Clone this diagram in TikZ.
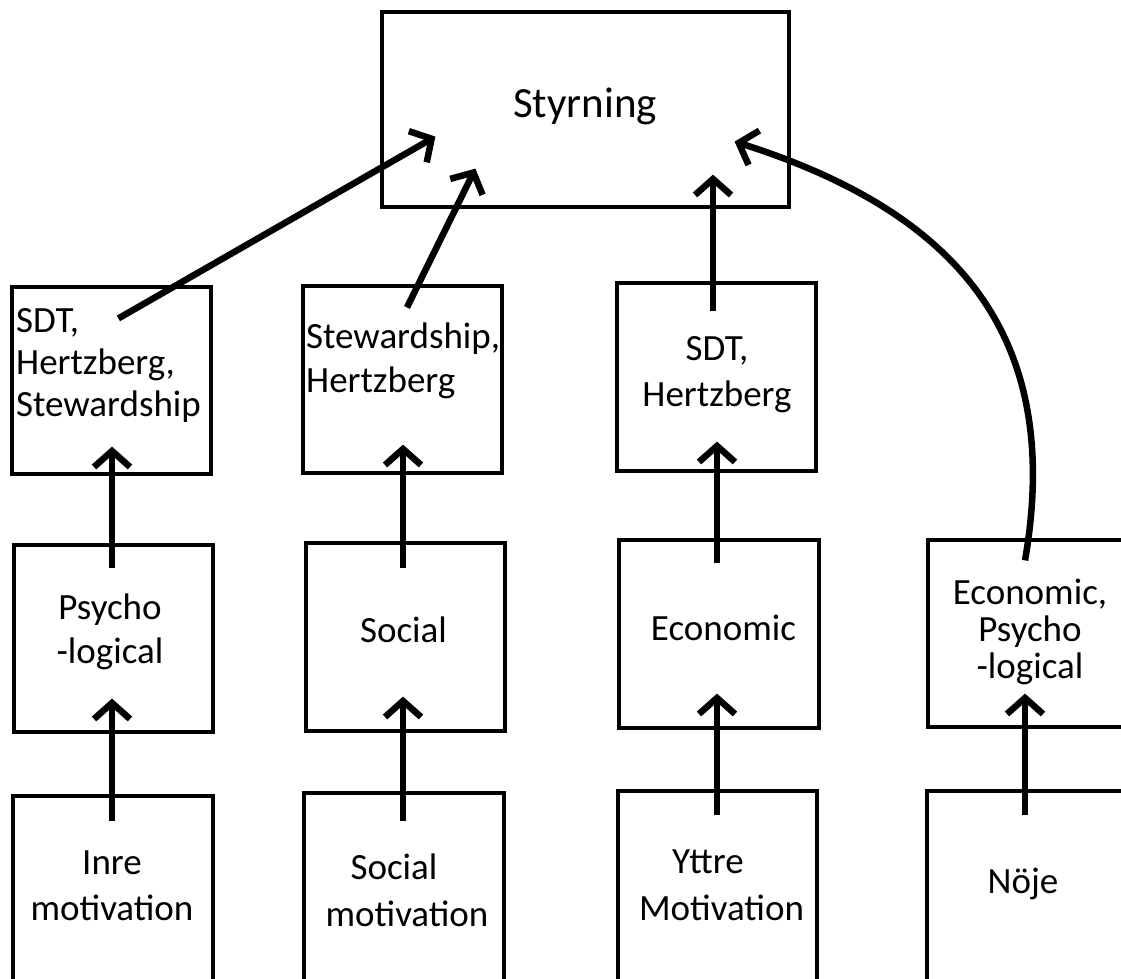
\documentclass[tikz,border=0pt]{standalone}
\usepackage{fontspec}
\setmainfont{Carlito}
\usetikzlibrary{arrows.meta,calc}
\begin{document}
\begin{tikzpicture}[x=1pt,y=-1pt,
  box/.style={draw=black, line width=3.2pt, rectangle, inner sep=0pt},
  arr/.style={line width=6.5pt, -{Straight Barb[length=16pt,width=36pt,line width=6.5pt]}},
  txt/.style={inner sep=0pt, font=\fontsize{37}{44}\selectfont}]
\useasboundingbox (0,0) rectangle (1121,978);
\clip (0,0) rectangle (1121,978);
% boxes
\node[box, minimum width=407pt, minimum height=195pt] (T) at (585.5,109.5) {};
\node[box, minimum width=199pt, minimum height=187pt] (A) at (111.5,380.5) {};
\node[box, minimum width=199pt, minimum height=187pt] (B) at (402.5,379.5) {};
\node[box, minimum width=199pt, minimum height=188pt] (C) at (716.5,377) {};
\node[box, minimum width=199pt, minimum height=187pt] (P) at (113.5,638.5) {};
\node[box, minimum width=199pt, minimum height=188pt] (S) at (405.5,637) {};
\node[box, minimum width=200pt, minimum height=188pt] (E) at (719,634) {};
\node[box, minimum width=202pt, minimum height=187pt] (EP) at (1029,633.5) {};
\node[box, minimum width=200pt, minimum height=208pt] (I) at (113,900) {};
\node[box, minimum width=200pt, minimum height=211pt] (SM) at (404,898.5) {};
\node[box, minimum width=199pt, minimum height=213pt] (Y) at (717.5,897.5) {};
\node[box, minimum width=203pt, minimum height=213pt] (N) at (1028.5,897.5) {};
% texts
\node[inner sep=0pt, font=\fontsize{43}{50}\selectfont, anchor=base] (tT) at (585,117) {Styrning};
\node[txt, font=\fontsize{37}{42}\selectfont, align=left, anchor=west] (tA) at (16,365) {SDT,\\Hertzberg,\\Stewardship};
\node[txt, align=left, anchor=west] (tB) at (306,360.5) {Stewardship,\\Hertzberg};
\node[txt, font=\fontsize{37}{46}\selectfont, align=center] (tC) at (717,375) {SDT,\\Hertzberg};
\node[txt, align=center] (tP) at (110,632) {Psycho\\-logical};
\node[txt, anchor=base] (tS) at (403.5,642) {Social};
\node[txt, anchor=base] (tE) at (723.5,640) {Economic};
\node[txt, font=\fontsize{37}{37}\selectfont, align=center] (tEP) at (1030,632) {Economic,\\Psycho\\-logical};
\node[txt, font=\fontsize{37}{46}\selectfont, align=center] (tI) at (112,886) {Inre\\motivation};
\node[txt, font=\fontsize{37}{47}\selectfont, align=center] (tSM) at (407,890.5) {Social\hspace*{26pt}\\motivation};
\node[txt, font=\fontsize{37}{47}\selectfont, align=center] (tY) at (721.5,885) {Yttre\hspace*{27pt}\\Motivation};
\node[txt, anchor=base] (tN) at (1023,893) {Nöje};
% connectors
\draw[arr] ($(I.north)+(-1,27)$) -- ($(P.south)+(-1.5,-35)$);
\draw[arr] ($(P.north)+(-1.5,25)$) -- ($(A.south)+(0.5,-29)$);
\draw[arr] ($(SM.north)+(-1,30)$) -- ($(S.south)+(-2.5,-36)$);
\draw[arr] ($(S.north)+(-2.5,27)$) -- ($(B.south)+(0.5,-30)$);
\draw[arr] ($(Y.north)+(-0.5,26)$) -- ($(E.south)+(-2,-36)$);
\draw[arr] ($(E.north)+(-2,25)$) -- ($(C.south)+(0.5,-31)$);
\draw[arr] ($(N.north)+(-3.5,26)$) -- ($(EP.south)+(-4,-35)$);
\draw[arr] ($(EP.north)+(-4,22)$) .. controls (1065,330) and (950,210) .. ($(T.south east)+(-56,-67)$);
\draw[arr] ($(A.north west)+(108,33)$) -- ($(T.south west)+(55,-72)$);
\draw[arr] ($(B.north)+(4.5,23)$) -- ($(T.south west)+(95,-40)$);
\draw[arr] ($(C.north)+(-3.5,30)$) -- ($(T.south)+(127.5,-34)$);
\end{tikzpicture}
\end{document}
